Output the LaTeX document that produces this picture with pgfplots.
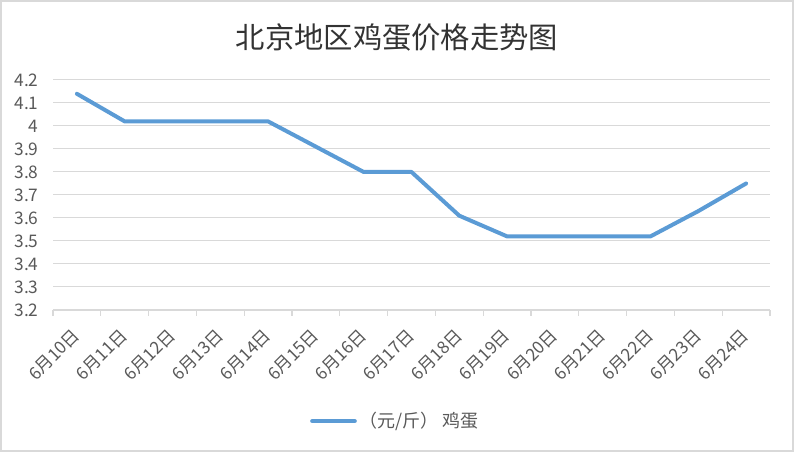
\documentclass[border=0pt]{standalone}
\usepackage{pgfplots}
\pgfplotsset{compat=1.18}
\usepackage{fontspec}
\setmainfont{Noto Sans CJK SC}
\definecolor{serieblue}{HTML}{5B9BD5}
\definecolor{gridgray}{HTML}{D9D9D9}
\definecolor{txt}{HTML}{595959}
\definecolor{titlecol}{HTML}{333333}
\begin{document}
\begin{tikzpicture}
\path[use as bounding box] (0,0) rectangle (595.5pt,339pt);
\draw[gridgray, line width=1.5pt] (0.75pt,0.75pt) rectangle (594.75pt,338.25pt);
\node[text=titlecol, font=\fontsize{22}{25}\selectfont] at (297.75pt,311pt) {北京地区鸡蛋价格走势图};
\begin{axis}[
  scale only axis,
  width=537.75pt, height=172.5pt,
  at={(39.75pt,106.5pt)}, anchor=south west,
  xmin=-0.5, xmax=14.5, ymin=3.2, ymax=4.2,
  axis x line*=bottom, axis y line*=left,
  x axis line style={gridgray, line width=1pt, -},
  y axis line style={draw=none},
  xtick={0,...,14},
  xticklabels={6月10日,6月11日,6月12日,6月13日,6月14日,6月15日,6月16日,6月17日,6月18日,6月19日,6月20日,6月21日,6月22日,6月23日,6月24日},
  major x tick style={draw=none},
  minor xtick={-0.5,0.5,...,14.5},
  minor x tick style={gridgray, line width=1pt},
  minor tick length=4.5pt,
  tick align=outside,
  ytick={3.2,3.3,3.4,3.5,3.6,3.7,3.8,3.9,4.0,4.1,4.2},
  ytick style={draw=none},
  ymajorgrids,
  grid style={gridgray, line width=0.75pt},
  /pgf/number format/assume math mode=true,
  yticklabel style={/pgf/number format/fixed, /pgf/number format/precision=1, xshift=-3pt, font=\fontsize{13}{15}\selectfont},
  tick label style={text=txt},
  x tick label style={xshift=0pt, yshift=-12.5pt, rotate=45, anchor=east, inner sep=0pt, font=\fontsize{13}{15}\selectfont},
  legend style={at={(0.478,-0.483)}, anchor=center, draw=none, fill=none,
    font=\fontsize{13.5}{15}\selectfont, text=txt},
  legend image code/.code={\draw[#1] (0pt,0pt) -- (32pt,0pt);},
]
\addplot[serieblue, line width=3pt, line cap=round, line join=round, mark=none] coordinates {
(0,4.14) (1,4.02) (2,4.02) (3,4.02) (4,4.02) (5,3.91) (6,3.80) (7,3.80)
(8,3.61) (9,3.52) (10,3.52) (11,3.52) (12,3.52) (13,3.63) (14,3.75)};
\addlegendentry{（元/斤） 鸡蛋}
\end{axis}
\end{tikzpicture}
\end{document}
